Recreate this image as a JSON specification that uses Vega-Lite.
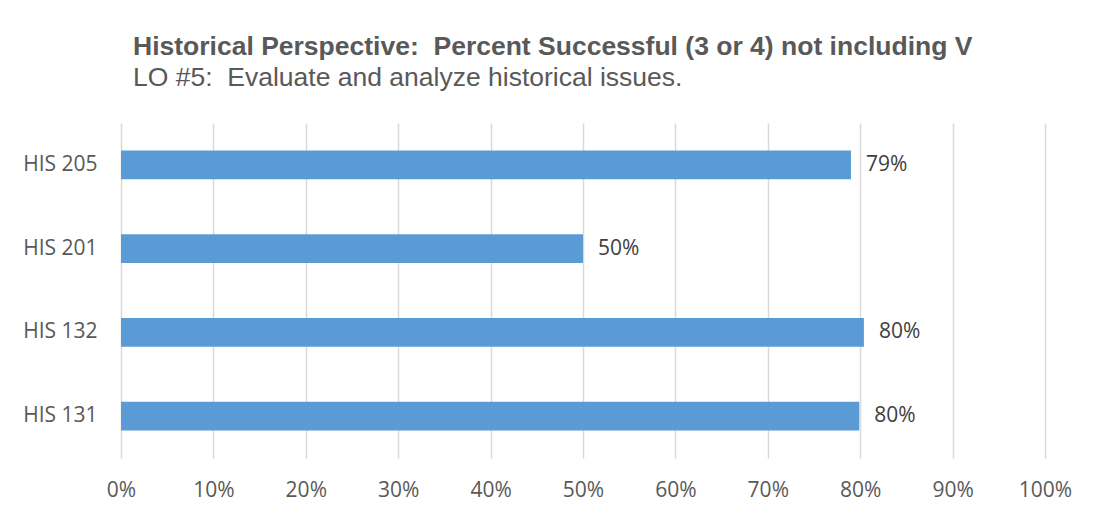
{
  "$schema": "https://vega.github.io/schema/vega-lite/v6.json",
  "width": 924,
  "height": 335,
  "autosize": {"type": "none"},
  "padding": {"left": 121, "top": 123, "right": 49, "bottom": 57},
  "background": "white",
  "config": {"view": {"stroke": null}},
  "title": {
    "text": "Historical Perspective:\u00a0 Percent Successful (3 or 4) not including V",
    "subtitle": "LO #5:\u00a0 Evaluate and analyze historical issues.",
    "anchor": "start",
    "frame": "group",
    "dx": 12,
    "offset": 32,
    "font": "Liberation Sans",
    "fontSize": 26.5,
    "fontWeight": "bold",
    "color": "#595959",
    "subtitleFont": "Liberation Sans",
    "subtitleFontSize": 26.5,
    "subtitleColor": "#595959",
    "subtitlePadding": 4
  },
  "data": {
    "values": [
      {"course": "HIS 205", "value": 0.79},
      {"course": "HIS 201", "value": 0.50},
      {"course": "HIS 132", "value": 0.804},
      {"course": "HIS 131", "value": 0.799}
    ]
  },
  "encoding": {
    "y": {
      "field": "course",
      "type": "nominal",
      "sort": ["HIS 205", "HIS 201", "HIS 132", "HIS 131"],
      "scale": {"paddingInner": 0.654, "paddingOuter": 0.327},
      "axis": {
        "title": null,
        "domain": false,
        "ticks": false,
        "grid": false,
        "labelPadding": 24,
        "labelFont": "Open Sans",
        "labelFontSize": 21,
        "labelColor": "#595959"
      }
    },
    "x": {
      "field": "value",
      "type": "quantitative",
      "scale": {"domain": [0, 1], "nice": false},
      "axis": {
        "title": null,
        "values": [0, 0.1, 0.2, 0.3, 0.4, 0.5, 0.6, 0.7, 0.8, 0.9, 1],
        "format": ".0%",
        "domain": false,
        "ticks": false,
        "grid": true,
        "gridColor": "#d9d9d9",
        "gridWidth": 1.5,
        "labelFlush": false,
        "labelBound": false,
        "labelPadding": 21,
        "labelFont": "Open Sans",
        "labelFontSize": 21,
        "labelColor": "#595959"
      }
    }
  },
  "layer": [
    {"mark": {"type": "bar", "color": "#5b9bd5"}},
    {
      "mark": {"type": "text", "align": "left", "baseline": "middle", "dx": 15, "font": "Open Sans", "fontSize": 21, "color": "#404040"},
      "encoding": {"text": {"field": "value", "type": "quantitative", "format": ".0%"}}
    }
  ]
}
